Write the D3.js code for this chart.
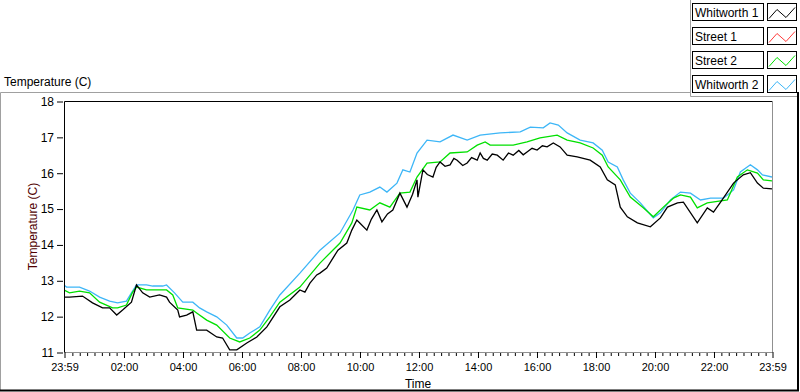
<!DOCTYPE html>
<html>
<head>
<meta charset="utf-8">
<script src="https://cdn.jsdelivr.net/npm/d3@7"></script>
<style>
  body { margin: 0; background: #fff; }
  svg { display: block; font-family: "Liberation Sans", Arial, sans-serif; }
</style>
</head>
<body>
<div id="chart"></div>
<script>
// series: [hour of day, temperature C]; -1/60 and 23.983 stand for 23:59
const whitworth1 = [
  [-0.017,12.53],[0.17,12.53],[0.61,12.56],[0.95,12.37],[1.29,12.23],[1.53,12.23],[1.77,12.03],
  [1.97,12.17],[2.27,12.39],[2.44,12.87],[2.65,12.65],[2.89,12.53],[3.22,12.59],[3.46,12.53],
  [3.56,12.39],[3.84,12.17],[3.90,11.98],[4.14,12.03],[4.35,12.12],[4.48,11.61],[4.82,11.61],
  [5.16,11.42],[5.36,11.39],[5.60,11.06],[5.84,11.06],[6.18,11.25],[6.52,11.42],[6.86,11.70],
  [7.30,12.26],[7.64,12.45],[7.98,12.73],[8.15,12.67],[8.32,12.92],[8.55,13.15],[8.66,13.20],
  [8.89,13.34],[9.10,13.62],[9.27,13.84],[9.57,14.04],[9.74,14.40],[9.91,14.68],[10.01,14.60],
  [10.25,14.40],[10.40,14.70],[10.59,14.96],[10.76,14.63],[10.95,14.85],[11.13,14.96],
  [11.37,15.43],[11.61,15.04],[11.80,15.40],[11.95,15.80],[11.98,15.32],[12.15,16.08],
  [12.30,15.95],[12.49,15.88],[12.60,16.15],[12.73,16.30],[12.90,16.18],[13.07,16.22],
  [13.20,16.40],[13.31,16.35],[13.50,16.20],[13.65,16.27],[13.80,16.42],[13.99,16.35],
  [14.09,16.55],[14.20,16.40],[14.33,16.35],[14.50,16.52],[14.67,16.49],[14.87,16.35],
  [15.05,16.55],[15.21,16.49],[15.40,16.62],[15.55,16.50],[15.68,16.58],[15.85,16.68],
  [16.02,16.63],[16.20,16.75],[16.36,16.72],[16.57,16.83],[16.80,16.72],[17.04,16.49],
  [17.38,16.44],[17.82,16.35],[18.16,16.16],[18.40,15.80],[18.67,15.66],[18.84,15.04],
  [19.08,14.77],[19.42,14.60],[19.86,14.49],[20.20,14.74],[20.44,15.04],[20.78,15.16],
  [20.98,15.18],[21.45,14.60],[21.79,15.02],[22.00,14.90],[22.24,15.18],[22.68,15.71],
  [23.01,15.94],[23.25,16.00],[23.49,15.71],[23.69,15.57],[23.983,15.55]
];
const street1 = [];
const street2 = [
  [-0.017,12.73],[0.17,12.65],[0.51,12.70],[0.85,12.65],[1.19,12.39],[1.63,12.23],[1.80,12.23],
  [2.10,12.31],[2.31,12.67],[2.44,12.81],[2.78,12.73],[3.46,12.73],[3.67,12.59],[3.84,12.23],
  [4.35,12.17],[4.48,12.09],[4.82,11.89],[5.16,11.75],[5.60,11.39],[5.94,11.28],[6.28,11.39],
  [6.62,11.61],[6.96,11.98],[7.30,12.39],[7.98,12.81],[8.66,13.48],[9.34,14.04],[9.74,14.60],
  [9.91,15.04],[10.35,14.96],[10.69,15.16],[11.03,15.04],[11.37,15.43],[11.71,15.46],
  [11.95,15.88],[12.29,16.27],[12.73,16.30],[13.07,16.55],[13.65,16.58],[13.99,16.77],
  [14.26,16.86],[14.43,16.77],[14.77,16.77],[15.21,16.77],[15.68,16.86],[16.12,16.97],
  [16.70,17.05],[17.04,16.91],[17.48,16.83],[17.92,16.69],[18.23,16.49],[18.43,16.16],
  [18.84,15.80],[19.18,15.32],[19.62,15.02],[19.96,14.77],[20.30,15.04],[20.64,15.29],
  [20.88,15.38],[21.22,15.32],[21.45,15.02],[21.79,15.16],[22.47,15.24],[22.81,15.88],
  [23.15,16.08],[23.49,15.99],[23.69,15.80],[23.983,15.77]
];
const whitworth2 = [
  [-0.017,12.87],[0.07,12.81],[0.51,12.81],[0.85,12.70],[1.19,12.53],[1.53,12.42],[1.80,12.37],
  [2.10,12.42],[2.27,12.65],[2.44,12.87],[2.78,12.87],[2.99,12.84],[3.33,12.84],[3.46,12.87],
  [3.73,12.65],[4.01,12.39],[4.35,12.39],[4.58,12.23],[4.82,12.12],[5.16,11.98],[5.50,11.75],
  [5.84,11.39],[6.04,11.39],[6.28,11.53],[6.62,11.70],[6.96,12.17],[7.30,12.59],[7.98,13.20],
  [8.66,13.84],[9.34,14.32],[9.78,14.96],[10.01,15.38],[10.35,15.46],[10.69,15.60],[10.93,15.46],
  [11.27,15.71],[11.47,16.08],[11.71,16.02],[11.95,16.55],[12.29,16.91],[12.73,16.86],
  [13.17,17.05],[13.65,16.91],[14.09,17.05],[14.77,17.11],[15.45,17.14],[15.79,17.27],
  [16.23,17.25],[16.46,17.39],[16.74,17.33],[17.04,17.11],[17.48,16.91],[17.92,16.83],
  [18.23,16.63],[18.43,16.30],[18.74,16.16],[18.94,15.80],[19.18,15.43],[19.52,15.16],
  [19.96,14.74],[20.20,14.88],[20.54,15.24],[20.88,15.46],[21.22,15.43],[21.56,15.24],
  [21.90,15.29],[22.34,15.29],[22.68,15.52],[22.91,16.02],[23.25,16.22],[23.49,16.08],
  [23.66,15.94],[23.983,15.88]
];

const seriesNames = ["Whitworth 1", "Street 1", "Street 2", "Whitworth 2"];
const seriesColors = ["#000000", "#ff3b3b", "#00e000", "#3db6f7"];
const seriesData = [whitworth1, street1, street2, whitworth2];

const yTicks = [11, 12, 13, 14, 15, 16, 17, 18];
const xTicks = [-1/60, 2, 4, 6, 8, 10, 12, 14, 16, 18, 20, 22, 24 - 1/60];
const xTickLabels = ["23:59", "02:00", "04:00", "06:00", "08:00", "10:00", "12:00",
                     "14:00", "16:00", "18:00", "20:00", "22:00", "23:59"];

// 1. Setup
const width = 800, height = 392;
const plot = { left: 64, right: 772, top: 101, bottom: 352 };

const svg = d3.select("#chart").append("svg")
    .attr("width", width)
    .attr("height", height);

// outer frame
svg.append("path").attr("d", "M0.5,390 V92.5 H690").attr("fill", "none").attr("stroke", "#a0a0a0");
svg.append("path").attr("d", "M690.5,0 V96.5 H797").attr("fill", "none").attr("stroke", "#a0a0a0");
svg.append("path").attr("d", "M0,390.5 H798 V92").attr("fill", "none").attr("stroke", "#000").attr("stroke-width", 2);

// 2. Scales
const x = d3.scaleLinear().domain([-1/60, 24 - 1/60]).range([plot.left, plot.right]);
const y = d3.scaleLinear().domain([11, 18]).range([plot.bottom, plot.top]);

// plot border (sunken)
svg.append("path")
    .attr("d", `M${plot.left + 0.5},${plot.bottom} V${plot.top + 0.5} H${plot.right}`)
    .attr("fill", "none").attr("stroke", "#000");
svg.append("path")
    .attr("d", `M${plot.right + 0.5},${plot.top} V${plot.bottom + 0.5}`)
    .attr("fill", "none").attr("stroke", "#909090");

// 3. Axes
const yAxis = svg.append("g")
    .attr("transform", `translate(${plot.left - 1},0.5)`)
    .call(d3.axisLeft(y).tickValues(yTicks).tickSize(6).tickSizeOuter(0).tickPadding(3)
        .tickFormat(d3.format("d")));
yAxis.select(".domain").remove();
yAxis.selectAll("text").attr("font-size", "12px").attr("fill", "#000").attr("font-family", "Liberation Sans, Arial");
yAxis.selectAll("line").attr("stroke", "#000");

const minorTicks = d3.range(0.25, 24, 0.25).filter(h => Math.abs(h / 2 - Math.round(h / 2)) > 1e-6);
const xMinor = svg.append("g")
    .attr("transform", `translate(0.5,${plot.bottom + 1})`)
    .call(d3.axisBottom(x).tickValues(minorTicks).tickSize(3).tickFormat(""));
xMinor.select(".domain").remove();
xMinor.selectAll("line").attr("stroke", "#000");

const xAxis = svg.append("g")
    .attr("transform", `translate(0.5,${plot.bottom})`)
    .call(d3.axisBottom(x).tickValues(xTicks).tickSize(6).tickSizeOuter(0).tickPadding(5)
        .tickFormat((d, i) => xTickLabels[i]));
xAxis.select(".domain").attr("stroke", "#909090").attr("d", `M${plot.left - 0.5},0.5H${plot.right}`);
xAxis.selectAll("line").attr("stroke", "#000");
xAxis.selectAll("text").attr("font-size", "11px").attr("fill", "#000").attr("font-family", "Liberation Sans, Arial");

// axis titles
svg.append("text")
    .attr("x", (plot.left + plot.right) / 2)
    .attr("y", 388)
    .attr("text-anchor", "middle")
    .attr("font-size", "12px")
    .text("Time");

svg.append("text")
    .attr("transform", `translate(37,${(plot.top + plot.bottom) / 2}) rotate(-90)`)
    .attr("text-anchor", "middle")
    .attr("font-size", "12px")
    .attr("fill", "#500000")
    .text("Temperature (C)");

svg.append("text")
    .attr("x", 4)
    .attr("y", 86)
    .attr("font-size", "12px")
    .text("Temperature (C)");

// 4. Lines
svg.append("clipPath").attr("id", "clip")
    .append("rect")
    .attr("x", plot.left + 1).attr("y", plot.top + 1)
    .attr("width", plot.right - plot.left - 1).attr("height", plot.bottom - plot.top - 1);

const line = d3.line()
    .x(d => x(d[0]))
    .y(d => y(d[1]));

const lines = svg.append("g").attr("clip-path", "url(#clip)");
// draw in reverse order so Whitworth 1 is on top
[3, 2, 1, 0].forEach(i => {
    if (seriesData[i].length === 0) return;
    lines.append("path")
        .datum(seriesData[i])
        .attr("fill", "none")
        .attr("stroke", seriesColors[i])
        .attr("stroke-width", 1.3)
        .attr("d", line);
});

// 5. Legend
const legend = svg.append("g");
seriesNames.forEach((name, i) => {
    const top = 3.5 + i * 24;
    legend.append("rect")
        .attr("x", 692.5).attr("y", top)
        .attr("width", 71).attr("height", 17)
        .attr("fill", "#fff").attr("stroke", "#000");
    legend.append("text")
        .attr("x", 695).attr("y", top + 13)
        .attr("font-size", "12px")
        .text(name);
    legend.append("rect")
        .attr("x", 767.5).attr("y", top)
        .attr("width", 29).attr("height", 17)
        .attr("fill", "#fff").attr("stroke", "#000");
    legend.append("path")
        .attr("d", `M769,${top + 15} L777,${top + 6} L786,${top + 14} L795,${top + 4}`)
        .attr("fill", "none")
        .attr("stroke", seriesColors[i]);
});
</script>
</body>
</html>
